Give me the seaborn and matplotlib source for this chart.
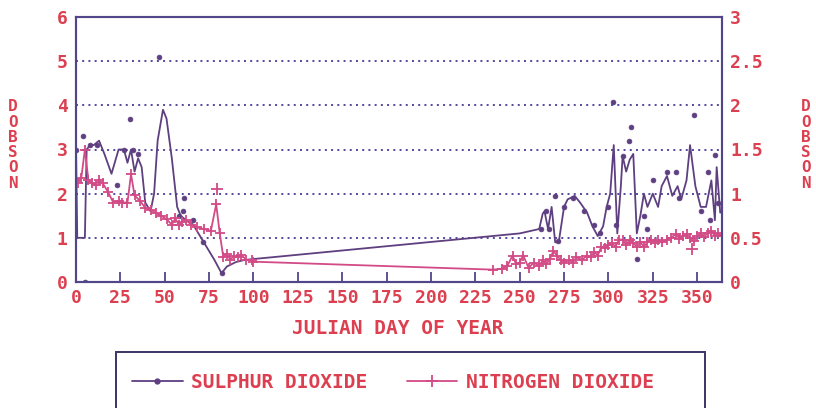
import numpy as np
import pandas as pd
import matplotlib
matplotlib.use("Agg")
import matplotlib.pyplot as plt
from matplotlib.lines import Line2D
from matplotlib.patches import Rectangle
import seaborn as sns

# ---------------- data ----------------
# Sulphur dioxide: smoothed curve (left axis, Dobson)
so2_line_days = [0, 0.7, 5, 6, 8, 10, 13, 16, 20, 24, 27, 29, 31, 33, 35, 37, 39, 42, 44, 46,
                 49, 51, 54, 57, 59, 62, 66, 72, 78, 82, 85, 90, 95, 100, 250, 261, 263, 264,
                 266, 268, 270, 272, 275, 277, 281, 284, 288, 291, 294, 297, 299, 301, 303,
                 305, 307, 308, 310, 312, 314, 316, 318, 320, 322, 325, 328, 330, 333, 336,
                 339, 341, 344, 346, 349, 352, 355, 358, 360, 361, 363]
so2_line = [3.1, 1.0, 1.0, 3.0, 3.1, 3.1, 3.2, 2.9, 2.45, 3.0, 3.0, 2.7, 3.0, 2.5, 2.8, 2.6, 1.8, 1.6, 2.0, 3.2,
            3.9, 3.7, 2.8, 1.7, 1.5, 1.4, 1.3, 0.9, 0.5, 0.2, 0.35, 0.45, 0.5, 0.52, 1.1, 1.2, 1.55, 1.6,
            1.2, 1.7, 0.9, 0.9, 1.7, 1.87, 1.95, 1.8, 1.57, 1.26, 1.04, 1.26, 1.7, 2.0, 3.1,
            1.1, 2.17, 2.85, 2.5, 2.77, 2.9, 1.1, 1.5, 2.0, 1.7, 2.0, 1.7, 2.17, 2.4, 1.95,
            2.17, 1.87, 2.3, 3.1, 2.17, 1.7, 1.7, 2.3, 1.4, 2.6, 1.57]

# Sulphur dioxide: measured points (left axis)
so2_pt_days = [0, 4, 5, 8, 12, 23, 27, 30.5, 32, 35, 47, 58, 60.5, 61, 66, 71.6, 82, 262, 264.7, 266.5,
               270, 271.5, 275, 280, 286, 292, 295, 300, 302.7, 304, 308, 311.6, 313, 316, 320,
               322, 325, 333, 338, 340, 348, 352, 356, 357, 360, 362]
so2_pts = [3.0, 3.3, 0.0, 3.1, 3.1, 2.2, 3.0, 3.7, 3.0, 2.9, 5.1, 1.5, 1.6, 1.9, 1.4, 0.9, 0.2, 1.2, 1.6, 1.2,
           1.95, 0.92, 1.7, 1.9, 1.6, 1.3, 1.1, 1.7, 4.08, 1.3, 2.85, 3.2, 3.5, 0.52, 1.5,
           1.2, 2.3, 2.5, 2.5, 1.9, 3.78, 1.6, 2.48, 1.4, 2.88, 1.8]

# Nitrogen dioxide (right axis, Dobson)
no2_days = [0, 1, 3, 5, 7, 9, 11, 13, 15, 18, 21, 24, 26, 29, 31, 33, 36, 39, 42, 45,
            48, 51, 54, 56, 58, 60, 62, 65, 68, 72, 76, 79, 81, 83, 85, 87, 89, 91, 93, 96,
            99, 100, 235, 240, 243, 246, 248, 250, 252, 255, 258, 261, 263, 265, 267, 269, 271, 273, 275, 278,
            280, 282, 285, 288, 290, 292, 294, 296, 298, 300, 302, 304, 306, 308, 310, 312, 314, 316, 318, 320,
            322, 324, 326, 328, 330, 333, 335, 338, 340, 342, 344, 346, 348, 350, 352, 354, 356, 358, 360, 362, 364]
no2 = [1.15, 1.12, 1.18, 1.5, 1.15, 1.12, 1.1, 1.15, 1.12, 1.02, 0.9, 0.92, 0.9, 0.9, 1.22, 0.98, 0.92, 0.84, 0.82, 0.78,
       0.75, 0.71, 0.65, 0.72, 0.64, 0.68, 0.7, 0.65, 0.62, 0.6, 0.58, 0.88, 0.55, 0.28, 0.32, 0.25, 0.3, 0.28, 0.31, 0.25,
       0.25, 0.23, 0.14, 0.15, 0.18, 0.3, 0.2, 0.22, 0.3, 0.16, 0.22, 0.18, 0.25, 0.2, 0.26, 0.35, 0.3, 0.25, 0.22, 0.25,
       0.22, 0.28, 0.25, 0.3, 0.28, 0.34, 0.3, 0.4, 0.38, 0.42, 0.44, 0.4, 0.48, 0.48, 0.42, 0.48, 0.44, 0.4, 0.45, 0.4,
       0.45, 0.48, 0.44, 0.48, 0.45, 0.48, 0.5, 0.54, 0.49, 0.52, 0.54, 0.5, 0.46, 0.52, 0.55, 0.51, 0.56, 0.58, 0.52, 0.55, 0.52]
no2_pt_days = [79.5, 347]
no2_pts = [1.05, 0.37]

x_ticks = list(range(0, 351, 25))
left_ticks = [0, 1, 2, 3, 4, 5, 6]
right_ticks = [0, 0.5, 1, 1.5, 2, 2.5, 3]
right_tick_labels = ["0", "0.5", "1", "1.5", "2", "2.5", "3"]
x_title = "JULIAN DAY OF YEAR"
y_title = "DOBSON"
series_names = ["SULPHUR DIOXIDE", "NITROGEN DIOXIDE"]

# ---------------- style ----------------
sns.set_theme(style="white")
plt.rcParams["font.family"] = ["DejaVu Sans Mono", "DejaVu Sans"]
plt.rcParams["font.weight"] = "bold"

PURPLE = "#5e3f80"
PINK = "#d24a86"
TEXT = "#dc4050"
FRAME = "#52468a"
GRID = "#50479a"

W, H = 816, 408
fig = plt.figure(figsize=(W / 100, H / 100), dpi=100)
ax = fig.add_axes([76 / W, 1 - 282 / H, (722 - 76) / W, (282 - 17) / H])
ax2 = ax.twinx()

so2_line_df = pd.DataFrame({"day": so2_line_days, "val": so2_line})
so2_pt_df = pd.DataFrame({"day": so2_pt_days, "val": so2_pts})
no2_df = pd.DataFrame({"day": no2_days, "val": no2})
no2_pt_df = pd.DataFrame({"day": no2_pt_days, "val": no2_pts})

sns.lineplot(data=so2_line_df, x="day", y="val", ax=ax, color=PURPLE, lw=1.3, sort=False)
sns.scatterplot(data=so2_pt_df, x="day", y="val", ax=ax, color=PURPLE, s=12, edgecolor=PURPLE, linewidth=0.5)

sns.lineplot(data=no2_df, x="day", y="val", ax=ax2, color=PINK, lw=1.3, sort=False,
             marker="+", markersize=7.5, markeredgewidth=1.3, markeredgecolor=PINK)
sns.scatterplot(data=no2_pt_df, x="day", y="val", ax=ax2, color=PINK, marker="+", s=70, linewidth=1.3)

ax.set_xlim(0, 364)
ax.set_ylim(0, 6)
ax2.set_ylim(0, 3)
ax.set_xticks(x_ticks)
ax.set_xticklabels([str(t) for t in x_ticks])
ax.set_yticks(left_ticks)
ax.set_yticklabels([str(t) for t in left_ticks])
ax2.set_yticks(right_ticks)
ax2.set_yticklabels(right_tick_labels)

for a in (ax, ax2):
    a.set_xlabel("")
    a.set_ylabel("")
    for s in a.spines.values():
        s.set_color(FRAME)
        s.set_linewidth(1.5)
ax.spines["top"].set_color("#b05a96")

ax.tick_params(axis="x", direction="in", length=7, width=1.3, color=FRAME,
               labelsize=13, labelcolor=TEXT, pad=5, bottom=True)
ax.tick_params(axis="y", length=0, labelsize=13, labelcolor=TEXT, pad=6, left=True)
ax2.tick_params(axis="y", length=0, labelsize=13, labelcolor=TEXT, pad=6, right=True)
for lab in ax.get_xticklabels() + ax.get_yticklabels() + ax2.get_yticklabels():
    lab.set_fontweight("bold")

for yv in [1, 2, 3, 4, 5]:
    ax.axhline(yv, color=GRID, lw=1.4, ls=(0, (1, 2.2)), zorder=0.5)

fig.text(398 / W, 1 - 329 / H, x_title, ha="center", va="center", color=TEXT,
         fontsize=14, fontweight="bold")
stack = "\n".join(y_title)
fig.text(13 / W, 1 - 145 / H, stack, ha="center", va="center", color=TEXT,
         fontsize=11.5, fontweight="bold", linespacing=1.02)
fig.text(806 / W, 1 - 145 / H, stack, ha="center", va="center", color=TEXT,
         fontsize=11.5, fontweight="bold", linespacing=1.02)

# legend
handles = [Line2D([], [], color=PURPLE, lw=1.3, marker="o", markersize=3.5),
           Line2D([], [], color=PINK, lw=1.3, marker="+", markersize=9, markeredgewidth=1.3)]
leg = fig.legend(handles, series_names, loc="center", bbox_to_anchor=(393 / W, 1 - 382 / H),
                 ncol=2, frameon=False, handlelength=2.6, handletextpad=0.45,
                 columnspacing=2.0, prop={"weight": "bold", "size": 14, "family": "DejaVu Sans Mono"})
for t in leg.get_texts():
    t.set_color(TEXT)
fig.patches.append(Rectangle((116 / W, -0.01), (705 - 116) / W, (408 - 352) / H + 0.01,
                             transform=fig.transFigure, fill=False, edgecolor="#3c3565", lw=1.4))

fig.savefig("out.png", dpi=100, facecolor="white")
